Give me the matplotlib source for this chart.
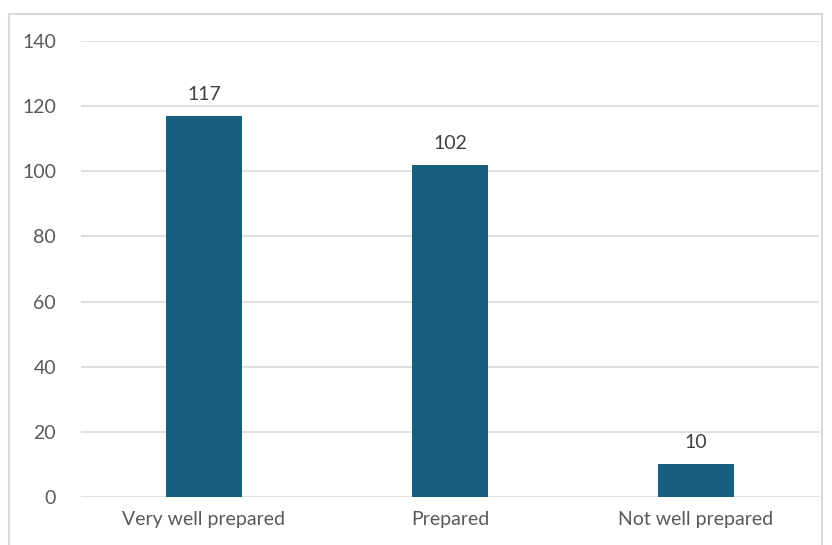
import matplotlib.pyplot as plt
from matplotlib.patches import Rectangle

categories = ["Very well prepared", "Prepared", "Not well prepared"]
counts = [117, 102, 10]
yticks = [0, 20, 40, 60, 80, 100, 120, 140]

plt.rcParams['font.family'] = ['Lato', 'DejaVu Sans']

fig = plt.figure(figsize=(8.32, 5.45), dpi=100)
ax = fig.add_axes([81 / 832, 1 - 497 / 545, 738 / 832, 456 / 545])

# chart border
fig.patches.append(Rectangle((9 / 832, -0.05), 813 / 832, 1.05 - 14 / 545,
                             transform=fig.transFigure, fill=False,
                             edgecolor="#d9d9d9", linewidth=1.5))

x = range(len(categories))
bars = ax.bar(x, counts, width=0.31, color="#165e7e", zorder=3)
for b, v in zip(bars, counts):
    ax.text(b.get_x() + b.get_width() / 2, v + 4, str(v), ha="center", va="bottom",
            fontsize=14, color="#404040")

ax.set_ylim(0, 140)
ax.set_xlim(-0.5, 2.5)
ax.set_yticks(yticks)
ax.set_xticks(list(x))
ax.set_xticklabels(categories)
ax.grid(axis="y", color="#d9d9d9", linewidth=1.2, zorder=0)
for s in ax.spines.values():
    s.set_visible(False)
ax.tick_params(axis="both", length=0, labelsize=14, colors="#595959")
ax.tick_params(axis="y", pad=18)
ax.tick_params(axis="x", pad=10)

fig.savefig("out.png", dpi=100)
